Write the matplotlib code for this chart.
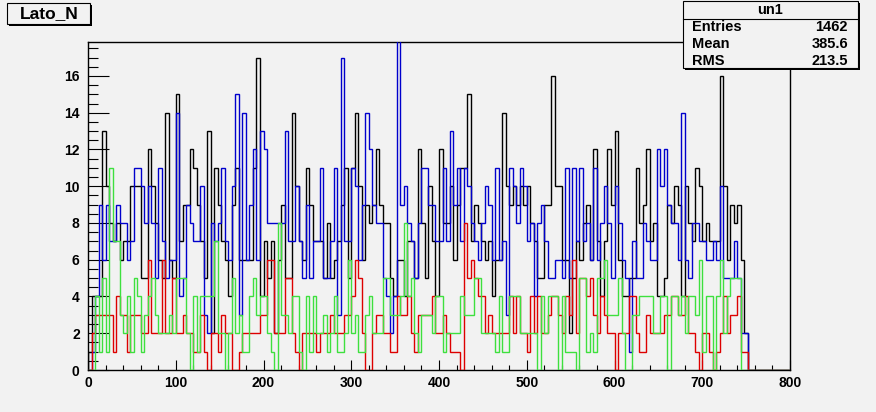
import numpy as np
import matplotlib
matplotlib.use('Agg')
import matplotlib.pyplot as plt
from matplotlib.patches import Rectangle
from matplotlib.lines import Line2D
from matplotlib.ticker import MultipleLocator

plt.rcParams['font.family'] = ['Liberation Sans', 'DejaVu Sans']
plt.rcParams['font.weight'] = 'bold'

# bin contents, 4 units per bin starting at 0
black = [1,4,4,4,13,10,8,7,8,6,7,7,10,10,10,5,5,12,10,8,6,5,14,6,5,15,7,9,9,12,11,9,7,5,
         13,2,11,9,7,6,4,9,11,6,6,6,6,11,17,4,7,5,7,2,6,9,5,5,14,10,7,6,11,9,7,7,
         7,5,8,5,6,7,9,11,5,11,14,10,6,9,8,9,12,9,8,8,5,4,6,6,4,7,7,5,12,8,5,10,7,
         4,12,8,8,10,6,9,11,11,15,7,9,8,7,6,7,4,6,6,14,10,9,10,9,10,9,10,8,7,5,5,9,9,
         16,10,10,6,6,2,5,7,6,8,9,6,12,7,4,7,12,9,13,6,4,4,5,5,11,8,9,12,7,8,4,4,
         5,9,8,10,9,4,10,8,7,11,10,7,8,7,7,7,16,10,6,9,8,9,6,2]
blue = [0,1,4,9,6,9,7,7,9,8,8,6,7,11,11,10,8,10,8,5,11,7,5,6,6,14,4,5,9,8,7,7,10,3,
        2,8,7,8,11,7,6,10,15,3,14,6,9,12,6,13,12,8,8,8,8,8,13,7,7,10,7,5,9,5,7,7,
        11,5,5,7,11,3,17,7,7,11,10,6,9,14,12,9,8,8,5,4,2,4,18,9,10,8,7,5,8,11,11,9,9,
        7,7,11,7,13,9,11,7,11,10,8,7,6,8,10,9,6,11,6,7,3,11,10,8,11,10,7,8,4,8,9,7,5,
        5,6,6,5,11,5,11,7,11,7,8,6,11,6,8,10,8,5,10,8,6,5,1,7,5,5,8,7,6,6,12,10,
        12,9,8,8,6,14,6,5,8,8,7,7,6,6,7,6,10,5,5,5,7,5,2,2]
red = [0,2,3,3,3,3,3,1,4,3,3,1,3,3,3,2,2,6,2,2,2,6,2,2,5,2,2,3,2,2,1,1,3,1,
       0,2,2,1,3,2,2,0,0,1,2,2,2,2,2,3,3,6,6,2,2,2,5,5,2,1,0,2,2,2,2,1,
       2,2,2,3,2,2,2,3,3,4,6,5,2,0,0,2,3,3,2,2,1,1,4,3,3,4,2,1,3,3,3,3,4,
       2,2,3,2,1,1,1,0,8,5,6,5,4,4,2,3,2,2,2,2,2,4,2,4,2,2,1,4,2,4,2,2,3,
       4,4,3,2,4,3,6,2,5,5,4,5,3,2,4,3,2,2,0,2,2,2,4,4,2,1,1,3,2,2,2,2,
       3,3,4,4,3,3,4,2,2,1,0,2,2,1,0,1,2,4,2,3,3,4,1,1]
green = [0,0,4,1,5,1,11,7,7,3,2,4,1,5,4,1,3,4,5,3,2,2,2,3,2,5,5,5,2,0,4,1,4,4,
         4,4,7,2,2,0,2,5,2,3,1,1,4,5,3,4,4,2,1,0,8,3,3,2,4,4,1,0,4,1,4,2,
         2,3,1,2,4,1,1,2,6,2,3,1,1,3,4,2,2,2,5,5,3,3,3,4,8,4,5,2,1,3,3,3,2,
         4,4,1,2,2,2,2,4,3,3,3,5,5,2,2,2,2,1,4,1,1,4,4,4,2,2,2,2,2,0,4,2,4,
         4,4,0,4,1,1,1,0,5,5,1,2,1,5,5,6,3,3,3,5,2,0,0,3,3,4,4,4,4,2,2,4,
         4,0,4,4,3,4,2,4,4,3,6,1,4,4,0,4,6,2,4,5,5,5,0,0]

series = [(black, 'black'), (blue, '#0000cc'), (red, '#dd0000'), (green, '#3ee03e')]
title = 'Lato_N'
stats = [('Entries', '1462'), ('Mean', '385.6'), ('RMS', '213.5')]

xmin, xmax, nbins = 0, 800, 200
edges = np.linspace(xmin, xmax, nbins + 1)

W, H = 876, 412
bg = '#f2f2f2'
fig = plt.figure(figsize=(W / 100, H / 100), dpi=100, facecolor=bg)
ax = fig.add_axes([88 / W, 1 - 370 / H, (790 - 88) / W, (370 - 42) / H])
ax.set_facecolor(bg)

for vals, col in series:
    v = np.zeros(nbins)
    v[:len(vals)] = vals
    ax.stairs(v, edges, baseline=0, color=col, lw=1.0, zorder=3)

ax.set_xlim(xmin, xmax)
ax.set_ylim(0, 1.05 * max(black))
ax.xaxis.set_major_locator(MultipleLocator(100))
ax.xaxis.set_minor_locator(MultipleLocator(20))
ax.yaxis.set_major_locator(MultipleLocator(2))
ax.yaxis.set_minor_locator(MultipleLocator(0.5))
ax.tick_params(axis='x', which='major', direction='in', length=7, width=0.8, pad=4, labelsize=10)
ax.tick_params(axis='x', which='minor', direction='in', length=3.6, width=0.8)
ax.tick_params(axis='y', which='major', direction='in', length=15, width=0.8, pad=6, labelsize=10)
ax.tick_params(axis='y', which='minor', direction='in', length=7.5, width=0.8)
for s in ax.spines.values():
    s.set_linewidth(1.0)


def fx(x):
    return x / W


def fy(y):
    return 1 - y / H


def box(x0, y0, x1, y1, sh=2):
    fig.patches.append(Rectangle((fx(x0 + sh), fy(y1 + sh)), (x1 - x0) / W, (y1 - y0) / H,
                                 transform=fig.transFigure, facecolor='black', edgecolor='none', zorder=5))
    fig.patches.append(Rectangle((fx(x0), fy(y1)), (x1 - x0) / W, (y1 - y0) / H,
                                 transform=fig.transFigure, facecolor=bg, edgecolor='black', lw=0.8, zorder=6))


# title box
box(7, 3, 90, 24)
fig.text(fx(49), fy(14), title, ha='center', va='center', fontsize=12.5, zorder=7)

# stats box
box(683, 1, 858, 68)
fig.lines.append(Line2D([fx(683), fx(858)], [fy(18.5), fy(18.5)], transform=fig.transFigure,
                        color='black', lw=0.8, zorder=7))
fig.text(fx(770), fy(10), 'un1', ha='center', va='center', fontsize=10.5, zorder=7)
for i, (k, val) in enumerate(stats):
    yy = 27 + 17 * i
    fig.text(fx(692), fy(yy), k, ha='left', va='center', fontsize=10.5, zorder=7)
    fig.text(fx(848), fy(yy), val, ha='right', va='center', fontsize=10.5, zorder=7)

fig.savefig('out.png', dpi=100, facecolor=bg)
